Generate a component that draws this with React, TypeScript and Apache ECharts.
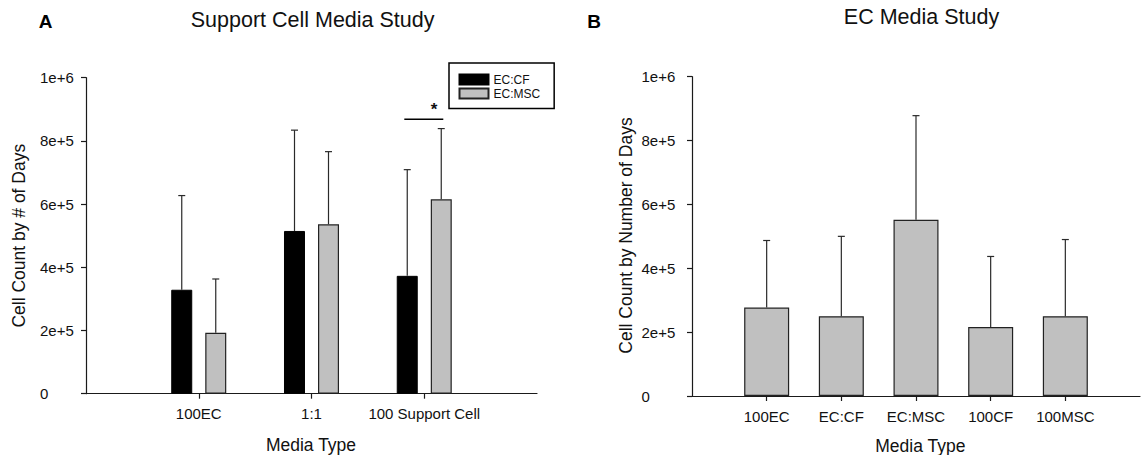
import React, { useEffect, useRef } from "react";
import * as echarts from "echarts";

// Support cell media study (panel A)
const catsA = ["100EC", "1:1", "100 Support Cell"];
const cfMean = [329000, 515000, 373000];
const cfSd = [298000, 319000, 336000];
const mscMean = [193000, 536000, 615000];
const mscSd = [170000, 230000, 224000];

// EC media study (panel B)
const catsB = ["100EC", "EC:CF", "EC:MSC", "100CF", "100MSC"];
const ecMean = [277000, 250000, 552000, 216000, 250000];
const ecSd = [210000, 250000, 326000, 221000, 240000];

const yTickLabels = ["0", "2e+5", "4e+5", "6e+5", "8e+5", "1e+6"];
const yStep = 200000;

const FONT = "Liberation Sans, Arial, sans-serif";
const AXIS_COLOR = "#1a1a1a";

// category axis with an empty slot on each side so labels sit on ticks
const padCats = (c: string[]) => ["", ...c, ""];
const padVals = (v: number[]) => [null, ...v, null];

function errorSeries(name: string, gridIdx: number, mean: number[], sd: number[], offset: number) {
  return {
    type: "custom",
    name,
    xAxisIndex: gridIdx,
    yAxisIndex: gridIdx,
    z: 5,
    silent: true,
    encode: { x: 0, y: 1 },
    data: mean.map((m, i) => [i + 1, m, sd[i]]),
    renderItem: (params: any, api: any) => {
      const idx = api.value(0);
      const m = api.value(1);
      const s = api.value(2);
      const p0 = api.coord([idx, m]);
      const p1 = api.coord([idx, m + s]);
      const x = p0[0] + offset;
      const style = { stroke: "#2a2a2a", lineWidth: 1.2 };
      return {
        type: "group",
        children: [
          { type: "line", shape: { x1: x, y1: p0[1], x2: x, y2: p1[1] }, style },
          { type: "line", shape: { x1: x - 3.5, y1: p1[1], x2: x + 3.5, y2: p1[1] }, style },
        ],
      };
    },
  };
}

function yAxisCfg(gridIndex: number, margin: number) {
  return {
    type: "value",
    gridIndex,
    min: 0,
    max: 1000000,
    interval: yStep,
    axisLine: { show: true, lineStyle: { color: AXIS_COLOR, width: 1.2 } },
    axisTick: { show: true, length: 5, lineStyle: { color: AXIS_COLOR, width: 1.2 } },
    splitLine: { show: false },
    axisLabel: {
      align: "left",
      margin,
      fontFamily: FONT,
      fontSize: 15,
      color: "#111",
      formatter: (v: number) => yTickLabels[Math.round(v / yStep)] ?? "",
    },
  };
}

function xAxisCfg(gridIndex: number, cats: string[], margin: number) {
  const data = padCats(cats);
  return {
    type: "category",
    gridIndex,
    data,
    boundaryGap: false,
    axisLine: { show: true, onZero: false, lineStyle: { color: AXIS_COLOR, width: 1.2 } },
    axisTick: {
      show: true,
      length: 5,
      interval: (i: number) => i > 0 && i < data.length - 1,
      lineStyle: { color: AXIS_COLOR, width: 1.2 },
    },
    axisLabel: { interval: 0, margin, fontFamily: FONT, fontSize: 15, color: "#111" },
    splitLine: { show: false },
  };
}

function txt(text: string, x: number, y: number, fontSize: number, extra: any = {}) {
  return {
    type: "text",
    x,
    y,
    silent: true,
    ...extra,
    style: {
      text,
      fontFamily: FONT,
      fontSize,
      fill: "#111",
      align: "center",
      verticalAlign: "middle",
      ...(extra.style || {}),
    },
  };
}

export default function App() {
  const ref = useRef<HTMLDivElement>(null);

  useEffect(() => {
    if (!ref.current) return;
    const chart = echarts.init(ref.current, null, { renderer: "svg" });
    const gray = { color: "#c0c0c0", borderColor: "#222", borderWidth: 1.2 };
    const black = { color: "#000", borderColor: "#000", borderWidth: 1 };

    chart.setOption({
      animation: false,
      backgroundColor: "#fff",
      grid: [
        { left: 86, top: 77.7, width: 451, height: 316 },
        { left: 692, top: 76.7, width: 457.2, height: 319.3 },
      ],
      xAxis: [xAxisCfg(0, catsA, 12.3), xAxisCfg(1, catsB, 12.8)],
      yAxis: [yAxisCfg(0, 46), yAxisCfg(1, 50.5)],
      legend: {
        data: ["EC:CF", "EC:MSC"],
        orient: "vertical",
        left: 449,
        top: 63,
        padding: [10.5, 14, 9, 9.5],
        itemWidth: 29,
        itemHeight: 10,
        itemGap: 2,
        icon: "rect",
        borderColor: "#000",
        borderWidth: 1.5,
        borderRadius: 0,
        selectedMode: false,
        textStyle: { fontFamily: FONT, fontSize: 12, color: "#111" },
      },
      series: [
        {
          type: "bar",
          name: "EC:CF",
          xAxisIndex: 0,
          yAxisIndex: 0,
          data: padVals(cfMean),
          barWidth: 21,
          barGap: "62%",
          itemStyle: black,
        },
        {
          type: "bar",
          name: "EC:MSC",
          xAxisIndex: 0,
          yAxisIndex: 0,
          data: padVals(mscMean),
          barWidth: 21,
          barGap: "62%",
          itemStyle: gray,
        },
        errorSeries("cf-err", 0, cfMean, cfSd, -17),
        errorSeries("msc-err", 0, mscMean, mscSd, 17),
        {
          type: "bar",
          name: "EC",
          xAxisIndex: 1,
          yAxisIndex: 1,
          data: padVals(ecMean),
          barWidth: 45,
          itemStyle: gray,
        },
        errorSeries("ec-err", 1, ecMean, ecSd, 0),
      ],
      graphic: [
        txt("A", 45.5, 21.2, 19, { style: { fontWeight: "bold", fill: "#000" } }),
        txt("Support Cell Media Study", 312.6, 20.3, 21.5),
        txt("B", 594, 21.2, 19, { style: { fontWeight: "bold", fill: "#000" } }),
        txt("EC Media Study", 921.5, 17.2, 21.5),
        txt("Cell Count by # of Days", 18.5, 235.7, 17.5, { rotation: Math.PI / 2 }),
        txt("Cell Count by Number of Days", 626, 235.5, 17.5, { rotation: Math.PI / 2 }),
        txt("Media Type", 311, 444.5, 17.5),
        txt("Media Type", 920.3, 446, 17.5),
        {
          type: "line",
          silent: true,
          shape: { x1: 404.3, y1: 119.3, x2: 443.3, y2: 119.3 },
          style: { stroke: "#000", lineWidth: 1.4 },
        },
        txt("*", 434, 109, 17, { style: { fontWeight: "bold" } }),
      ],
    });

    return () => chart.dispose();
  }, []);

  return (
    <div
      ref={ref}
      style={{ position: "fixed", left: 0, top: 0, width: 1143, height: 455, background: "#fff" }}
    />
  );
}
